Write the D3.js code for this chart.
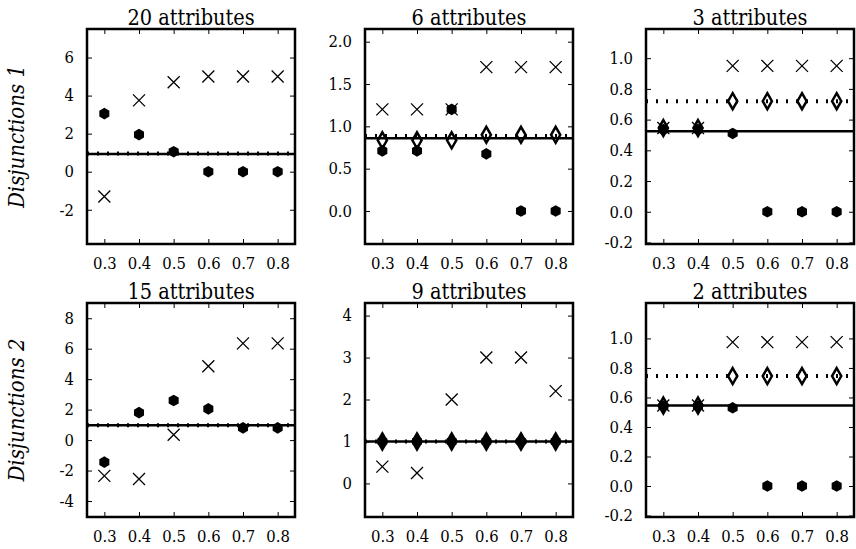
<!DOCTYPE html>
<html lang="en">
<head>
    <meta charset="UTF-8">
    <title>Disjunctions</title>
    <style>
        body { margin: 0; background: #fff; }
        svg { display: block; }
        text { font-family: "DejaVu Serif Condensed", "DejaVu Serif", serif; font-stretch: condensed; fill: #000; }
    </style>
    <script src="https://d3js.org/d3.v7.min.js"></script>
</head>
<body>
    <div id="chart"></div>
    <script>
        // shared x positions
        const xValues = [0.3, 0.4, 0.5, 0.6, 0.7, 0.8];
        const xTicks = [0.3, 0.4, 0.5, 0.6, 0.7, 0.8];
        const rowLabels = ["Disjunctions 1", "Disjunctions 2"];

        // 20 attributes
        const cross20 = [-1.3, 3.75, 4.7, 5.0, 5.0, 5.0];
        const dot20 = [3.05, 1.95, 1.05, 0, 0, 0];
        const diamond20 = [];
        const solid20 = 0.93, dotted20 = 0.95;
        const ticks20 = [-2, 0, 2, 4, 6];

        // 6 attributes
        const cross6 = [1.2, 1.2, 1.2, 1.7, 1.7, 1.7];
        const dot6 = [0.71, 0.71, 1.2, 0.675, 0, 0];
        const diamond6 = [0.835, 0.835, 0.835, 0.9, 0.9, 0.9];
        const solid6 = 0.86, dotted6 = 0.885;
        const ticks6 = [0, 0.5, 1.0, 1.5, 2.0];

        // 3 attributes
        const cross3 = [0.545, 0.545, 0.95, 0.95, 0.95, 0.95];
        const dot3 = [0.535, 0.535, 0.51, 0, 0, 0];
        const diamond3 = [0.545, 0.545, 0.72, 0.72, 0.72, 0.72];
        const solid3 = 0.525, dotted3 = 0.72;
        const ticks3 = [-0.2, 0, 0.2, 0.4, 0.6, 0.8, 1.0];

        // 15 attributes
        const cross15 = [-2.35, -2.55, 0.35, 4.85, 6.35, 6.35];
        const dot15 = [-1.45, 1.8, 2.6, 2.05, 0.8, 0.8];
        const diamond15 = [];
        const solid15 = 0.98, dotted15 = 0.98;
        const ticks15 = [-4, -2, 0, 2, 4, 6, 8];

        // 9 attributes
        const cross9 = [0.4, 0.25, 2.0, 3.0, 3.0, 2.2];
        const dot9 = [1, 1, 1, 1, 1, 1];
        const diamond9 = [1, 1, 1, 1, 1, 1];
        const solid9 = 1.0, dotted9 = 1.0;
        const ticks9 = [0, 1, 2, 3, 4];

        // 2 attributes
        const cross2 = [0.545, 0.545, 0.975, 0.975, 0.975, 0.975];
        const dot2 = [0.54, 0.54, 0.53, 0, 0, 0];
        const diamond2 = [0.545, 0.545, 0.745, 0.745, 0.745, 0.745];
        const solid2 = 0.545, dotted2 = 0.745;
        const ticks2 = [-0.2, 0, 0.2, 0.4, 0.6, 0.8, 1.0];

        const panels = [
            { title: "20 attributes", row: 0, col: 0, domain: [-3.8, 7.5], ticks: ticks20, fmt: d3.format("d"),
              cross: cross20, dot: dot20, diamond: diamond20, solid: solid20, dotted: dotted20 },
            { title: "6 attributes", row: 0, col: 1, domain: [-0.39, 2.15], ticks: ticks6, fmt: d3.format(".1f"),
              cross: cross6, dot: dot6, diamond: diamond6, solid: solid6, dotted: dotted6 },
            { title: "3 attributes", row: 0, col: 2, domain: [-0.21, 1.19], ticks: ticks3, fmt: d3.format(".1f"),
              cross: cross3, dot: dot3, diamond: diamond3, solid: solid3, dotted: dotted3 },
            { title: "15 attributes", row: 1, col: 0, domain: [-5.05, 9.0], ticks: ticks15, fmt: d3.format("d"),
              cross: cross15, dot: dot15, diamond: diamond15, solid: solid15, dotted: dotted15 },
            { title: "9 attributes", row: 1, col: 1, domain: [-0.8, 4.3], ticks: ticks9, fmt: d3.format("d"),
              cross: cross9, dot: dot9, diamond: diamond9, solid: solid9, dotted: dotted9 },
            { title: "2 attributes", row: 1, col: 2, domain: [-0.21, 1.24], ticks: ticks2, fmt: d3.format(".1f"),
              cross: cross2, dot: dot2, diamond: diamond2, solid: solid2, dotted: dotted2 }
        ];

        const width = 856, height = 549;
        const colLeft = [87, 365, 646];
        const panelW = 208;
        const rowTop = [29, 303];
        const rowH = [215, 214];

        const svg = d3.select("#chart").append("svg")
            .attr("width", width)
            .attr("height", height);

        const minus = s => s.replace("−", "-");

        // marker shapes
        const crossPath = "M-6,-6L6,6M-6,6L6,-6";
        const hexPath = d3.line()(d3.range(6).map(i => {
            const a = Math.PI / 6 + i * Math.PI / 3;
            return [5.8 * Math.cos(a), 5.8 * Math.sin(a)];
        })) + "Z";
        const diamondPath = "M0,-8L4.6,0L0,8L-4.6,0Z";

        rowLabels.forEach((label, r) => {
            svg.append("text")
                .attr("transform", `translate(24,${rowTop[r] + rowH[r] / 2}) rotate(-90)`)
                .attr("text-anchor", "middle")
                .style("font-style", "italic")
                .style("font-size", "22px")
                .text(label);
        });

        panels.forEach(p => {
            const left = colLeft[p.col];
            const top = rowTop[p.row];
            const h = rowH[p.row];

            const x = d3.scaleLinear().domain([0.25, 0.85]).range([0, panelW]);
            const y = d3.scaleLinear().domain(p.domain).range([h, 0]);

            const g = svg.append("g").attr("transform", `translate(${left},${top})`);

            // axes with inward ticks, labels on left and bottom only
            const xb = g.append("g").attr("transform", `translate(0,${h})`)
                .call(d3.axisBottom(x).tickValues(xTicks).tickSizeInner(-5).tickSizeOuter(0).tickPadding(13).tickFormat(d3.format(".1f")));
            const xt = g.append("g")
                .call(d3.axisTop(x).tickValues(xTicks).tickSizeInner(-5).tickSizeOuter(0).tickFormat(""));
            const yl = g.append("g")
                .call(d3.axisLeft(y).tickValues(p.ticks).tickSizeInner(-5).tickSizeOuter(0).tickPadding(13).tickFormat(d => minus(p.fmt(d))));
            const yr = g.append("g").attr("transform", `translate(${panelW},0)`)
                .call(d3.axisRight(y).tickValues(p.ticks).tickSizeInner(-5).tickSizeOuter(0).tickFormat(""));

            [xb, xt, yl, yr].forEach(a => {
                a.select(".domain").remove();
                a.selectAll(".tick line").attr("stroke", "#000").attr("stroke-width", 1);
                a.selectAll(".tick text")
                    .style("font-family", "'DejaVu Serif Condensed', 'DejaVu Serif', serif")
                    .style("font-stretch", "condensed")
                    .style("font-size", "16.5px").attr("fill", "#000");
            });
            xb.selectAll(".tick text").attr("dy", "0.71em");

            // markers: crosses, diamonds, dots
            g.selectAll(".cross").data(p.cross).enter().append("path")
                .attr("class", "cross")
                .attr("transform", (d, i) => `translate(${x(xValues[i])},${y(d)})`)
                .attr("d", crossPath)
                .attr("stroke", "#000").attr("stroke-width", 1.3).attr("fill", "none");

            g.selectAll(".diamond").data(p.diamond).enter().append("path")
                .attr("class", "diamond")
                .attr("transform", (d, i) => `translate(${x(xValues[i])},${y(d)})`)
                .attr("d", diamondPath)
                .attr("stroke", "#000").attr("stroke-width", 2.5).attr("fill", "#fff");

            g.selectAll(".dot").data(p.dot).enter().append("path")
                .attr("class", "dot")
                .attr("transform", (d, i) => `translate(${x(xValues[i])},${y(d)})`)
                .attr("d", hexPath)
                .attr("fill", "#000");

            // reference lines
            g.append("line")
                .attr("x1", 0).attr("x2", panelW)
                .attr("y1", y(p.solid)).attr("y2", y(p.solid))
                .attr("stroke", "#000").attr("stroke-width", 2.5);
            g.append("line")
                .attr("x1", 0).attr("x2", panelW)
                .attr("y1", y(p.dotted)).attr("y2", y(p.dotted))
                .attr("stroke", "#000").attr("stroke-width", 4)
                .attr("stroke-dasharray", "2,8");

            // frame
            g.append("rect")
                .attr("width", panelW).attr("height", h)
                .attr("fill", "none").attr("stroke", "#000").attr("stroke-width", 2.5);

            g.append("text")
                .attr("x", panelW / 2).attr("y", -4)
                .attr("text-anchor", "middle")
                .style("font-size", "21.5px")
                .text(p.title);
        });
    </script>
</body>
</html>
